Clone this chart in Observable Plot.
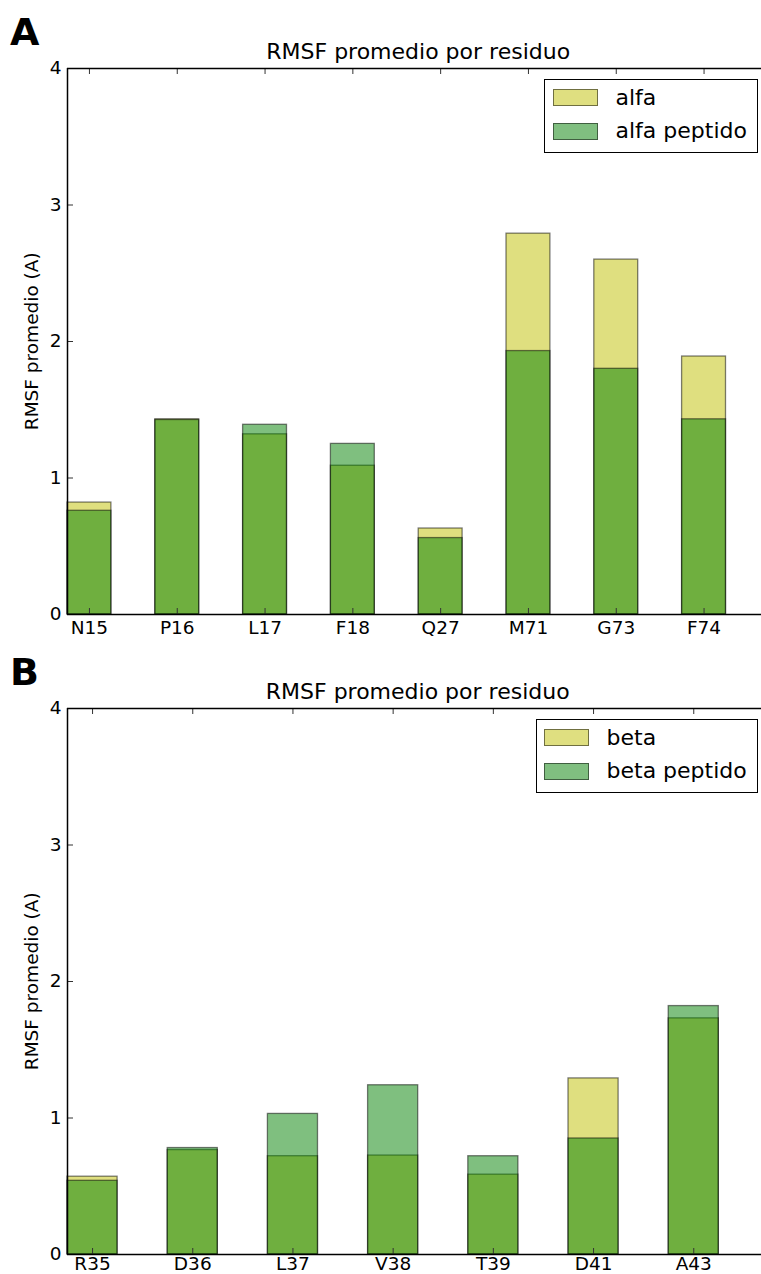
<!DOCTYPE html>
<html>
<head>
<meta charset="utf-8">
<script src="https://cdn.jsdelivr.net/npm/d3@7"></script>
<script src="https://cdn.jsdelivr.net/npm/@observablehq/plot@0.6"></script>
<style>
  html, body { margin: 0; padding: 0; background: white; overflow: hidden; }
  #wrap { position: relative; width: 761px; height: 1274px; font-family: "DejaVu Sans", sans-serif; color: black; overflow: hidden; }
  .panel { position: absolute; left: 0; }
  .abs { position: absolute; white-space: nowrap; }
  .letter { font-weight: bold; font-size: 38px; line-height: 38px; }
  .title { font-size: 22px; line-height: 22px; text-align: center; }
  .ylab { font-size: 18.5px; line-height: 18.5px; height: 18.5px; width: 400px; text-align: center; transform: rotate(-90deg); }
  .legend { position: absolute; border: 1.5px solid black; box-sizing: border-box; background: white; }
  .sw { position: absolute; width: 45px; height: 17px; box-sizing: border-box; border: 1.3px solid rgba(0,0,0,0.5); }
  .lt { position: absolute; font-size: 22px; line-height: 22px; white-space: nowrap; }
</style>
</head>
<body>
<div id="wrap"></div>
<script>
// ---- data ----
const residuesA = ["N15", "P16", "L17", "F18", "Q27", "M71", "G73", "F74"];
const alfa = [0.82, 1.43, 1.32, 1.09, 0.63, 2.79, 2.60, 1.89];
const alfaPeptido = [0.76, 1.425, 1.39, 1.25, 0.56, 1.93, 1.80, 1.43];

const residuesB = ["R35", "D36", "L37", "V38", "T39", "D41", "A43"];
const beta = [0.57, 0.765, 0.72, 0.725, 0.585, 1.29, 1.73];
const betaPeptido = [0.54, 0.78, 1.03, 1.24, 0.72, 0.85, 1.82];

const yTicks = [0, 1, 2, 3, 4];
const titleText = "RMSF promedio por residuo";
const yLabelText = "RMSF promedio (A)";

const yellow = "#bfbf00";
const green = "#008000";

function panel(residues, base, peptide, xmax, xRangeEnd, xPad) {
  const W = 761, H = 640, mL = 67, mT = 68, mB = 26;
  const h = H - mT - mB;         // frame height
  const w = W - mL;              // frame width (right margin 0)
  const rows = residues.map((r, i) => ({i, r, base: base[i], pep: peptide[i]}));
  const centers = residues.map((r, i) => i + 0.25);
  const barStyle = {stroke: "black", strokeOpacity: 0.5, strokeWidth: 1.3, fillOpacity: 0.5};
  return Plot.plot({
    width: W, height: H,
    marginLeft: mL, marginTop: mT, marginBottom: mB, marginRight: 0,
    style: {fontFamily: "DejaVu Sans", color: "black", background: "white", overflow: "hidden"},
    x: {domain: [0, xmax], range: [mL, xRangeEnd]},
    y: {domain: [0, 4], range: [H - mB, mT]},
    marks: [
      Plot.rect(rows, {x1: d => d.i, x2: d => d.i + 0.5, y1: () => 0, y2: d => d.base, fill: yellow, ...barStyle}),
      Plot.rect(rows, {x1: d => d.i, x2: d => d.i + 0.5, y1: () => 0, y2: d => d.pep, fill: green, ...barStyle}),
      // inward ticks
      Plot.tickY(yTicks, {y: d => d, insetRight: w - 6, stroke: "#333", strokeWidth: 1}),
      Plot.tickX(centers, {x: d => d, insetTop: h - 6, stroke: "#333", strokeWidth: 1}),
      Plot.tickX(centers, {x: d => d, insetBottom: h - 6, stroke: "#333", strokeWidth: 1}),
      // spines
      Plot.ruleY([0], {stroke: "black", strokeWidth: 1.5}),
      Plot.ruleY([4], {stroke: "black", strokeWidth: 1.5}),
      Plot.ruleX([0], {stroke: "black", strokeWidth: 1.5}),
      // axes labels
      Plot.axisY({ticks: yTicks, tickSize: 0, tickPadding: 6, fontSize: 18.5, label: null, tickFormat: d => String(d)}),
      Plot.axisX({ticks: centers, tickSize: 0, tickPadding: xPad, fontSize: 18.5, label: null,
                  tickFormat: d => residues[Math.round(d - 0.25)]})
    ]
  });
}

const wrap = document.getElementById("wrap");

function addPanel(top, letter, residues, base, peptide, xmax, xEnd, xPad, names, legendLeft, legendWidth, swLeft, textLeft) {
  const p = panel(residues, base, peptide, xmax, xEnd, xPad);
  p.classList.add("panel");
  p.style.top = top + "px";
  p.style.position = "absolute";
  wrap.appendChild(p);

  const L = document.createElement("div");
  L.className = "abs letter";
  L.style.left = "10px"; L.style.top = (top + 13) + "px";
  L.textContent = letter;
  wrap.appendChild(L);

  const T = document.createElement("div");
  T.className = "abs title";
  T.style.left = "67px"; T.style.width = (xEnd - 67) + "px"; T.style.top = (top + 41.4) + "px";
  T.textContent = titleText;
  wrap.appendChild(T);

  const Y = document.createElement("div");
  Y.className = "abs ylab";
  Y.style.left = (32 - 200) + "px"; Y.style.top = (top + 341 - 9.25) + "px";
  Y.textContent = yLabelText;
  wrap.appendChild(Y);

  const lg = document.createElement("div");
  lg.className = "legend";
  lg.style.left = legendLeft + "px"; lg.style.top = (top + 79) + "px";
  lg.style.width = legendWidth + "px"; lg.style.height = "74px";
  const items = [[names[0], "#dfdf80"], [names[1], "#80bf80"]];
  items.forEach(([name, col], k) => {
    const s = document.createElement("div");
    s.className = "sw";
    s.style.left = swLeft + "px"; s.style.top = (8.5 + k * 34) + "px";
    s.style.background = col;
    lg.appendChild(s);
    const t = document.createElement("div");
    t.className = "lt";
    t.style.left = textLeft + "px"; t.style.top = (7 + k * 33) + "px";
    t.textContent = name;
    lg.appendChild(t);
  });
  wrap.appendChild(lg);
}

addPanel(0, "A", residuesA, alfa, alfaPeptido, 8, 769.4, 6, ["alfa", "alfa peptido"], 544, 214, 7.5, 70.5);
addPanel(640, "B", residuesB, beta, betaPeptido, 7, 768.4, 2, ["beta", "beta peptido"], 536, 222, 6.5, 69.5);
</script>
</body>
</html>
